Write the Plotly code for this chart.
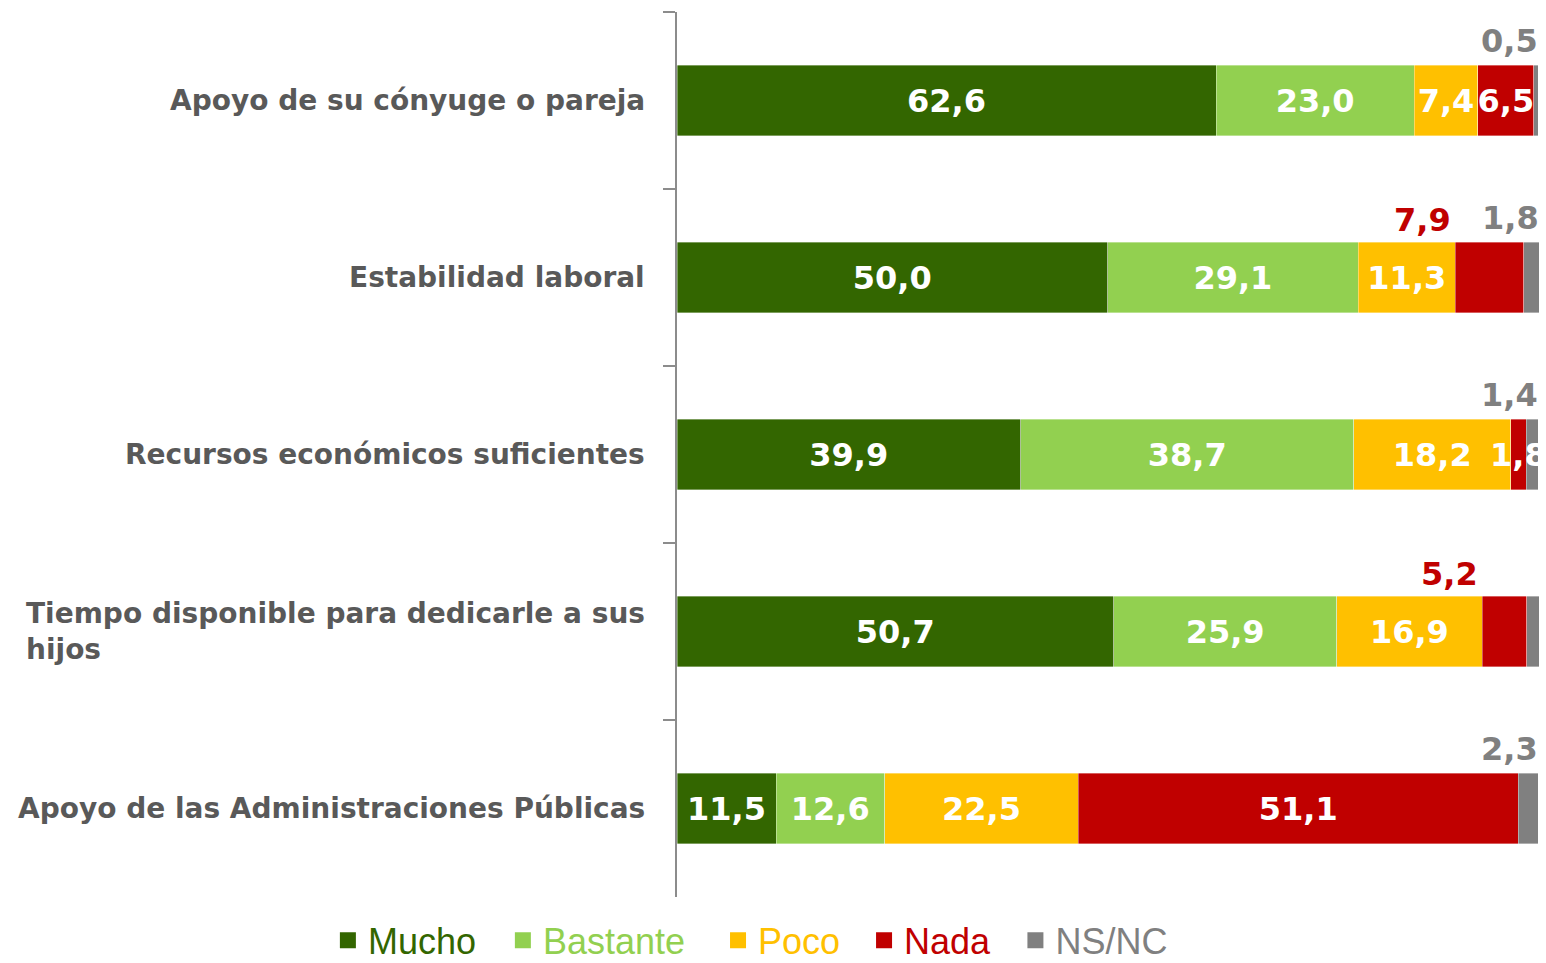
import plotly.graph_objects as go

categories = [
    "Apoyo de su cónyuge o pareja",
    "Estabilidad laboral",
    "Recursos económicos suficientes",
    "Tiempo disponible para dedicarle a sus hijos",
    "Apoyo de las Administraciones Públicas",
]
category_labels = [
    "Apoyo de su cónyuge o pareja",
    "Estabilidad laboral",
    "Recursos económicos suficientes",
    "Tiempo disponible para dedicarle a sus<br>hijos",
    "Apoyo de las Administraciones Públicas",
]
series_names = ["Mucho", "Bastante", "Poco", "Nada", "NS/NC"]
mucho = [62.6, 50.0, 39.9, 50.7, 11.5]
bastante = [23.0, 29.1, 38.7, 25.9, 12.6]
poco = [7.4, 11.3, 18.2, 16.9, 22.5]
nada = [6.5, 7.9, 1.8, 5.2, 51.1]
nsnc = [0.5, 1.8, 1.4, 1.4, 2.3]
# where each value label is written: inside the bar, above the bar, or overlaid (overflowing)
nada_label = ["inside", "above", "overlay", "above", "inside"]
nsnc_label = ["above", "above", "above", "above", "above"]

colors = ["#336600", "#92D050", "#FFC000", "#C00000", "#808080"]
series = [mucho, bastante, poco, nada, nsnc]
label_modes = [["inside"] * 5, ["inside"] * 5, ["inside"] * 5, nada_label, nsnc_label]


def fmt(v):
    return f"{v:.1f}".replace(".", ",")


NUM_SIZE = 32
LABEL_FONT = dict(family="DejaVu Sans", size=NUM_SIZE, color="white", weight="bold")
CAT_FONT = dict(family="DejaVu Sans", size=28, color="#595959", weight="bold")

fig = go.Figure()
legend_ids = ["legend", "legend2", "legend3", "legend4", "legend5"]
for name, vals, col, modes in zip(series_names, series, colors, label_modes):
    fig.add_trace(go.Bar(
        name=name,
        y=categories,
        x=vals,
        orientation="h",
        marker=dict(color=col, line=dict(color="rgba(255,255,255,0.6)", width=0.6)),
        width=0.4,
        text=[fmt(v) if m == "inside" else "" for v, m in zip(vals, modes)],
        textposition="inside",
        insidetextanchor="middle",
        textangle=0,
        insidetextfont=LABEL_FONT,
        cliponaxis=False,
        showlegend=False,
        hoverinfo="skip",
    ))

# legend entries (square swatches)
for name, col, lid in zip(series_names, colors, legend_ids):
    fig.add_trace(go.Scatter(
        name=name, x=[None], y=[None], mode="markers",
        marker=dict(symbol="square", size=18, color=col),
        legend=lid, showlegend=True, hoverinfo="skip",
    ))

annotations = []
for i, cat in enumerate(categories):
    start_nada = mucho[i] + bastante[i] + poco[i]
    end_total = start_nada + nada[i] + nsnc[i]
    if nada_label[i] == "above":
        annotations.append(dict(
            x=start_nada, y=cat, xref="x", yref="y", text=fmt(nada[i]),
            showarrow=False, xanchor="right", yanchor="middle", xshift=-2, yshift=58,
            font=dict(family="DejaVu Sans", size=NUM_SIZE, color=colors[3], weight="bold"),
        ))
    elif nada_label[i] == "overlay":
        annotations.append(dict(
            x=start_nada + nada[i] / 2, y=cat, xref="x", yref="y", text=fmt(nada[i]),
            showarrow=False, xanchor="center", yanchor="middle",
            font=LABEL_FONT,
        ))
    if nsnc_label[i] == "above":
        annotations.append(dict(
            x=end_total, y=cat, xref="x", yref="y", text=fmt(nsnc[i]),
            showarrow=False, xanchor="right", yanchor="middle", xshift=2, yshift=60,
            font=dict(family="DejaVu Sans", size=NUM_SIZE, color=colors[4], weight="bold"),
        ))

# category labels (left-aligned block, right edge near the axis)
for cat, lab in zip(categories, category_labels):
    annotations.append(dict(
        x=0, y=cat, xref="paper", yref="y", text=lab, showarrow=False,
        xanchor="right", yanchor="middle", align="left", xshift=-30,
        font=CAT_FONT,
    ))

legend_x = [-0.405, -0.202, 0.0476, 0.217, 0.3926]
layout_legends = {}
for lid, lx, col in zip(legend_ids, legend_x, colors):
    layout_legends[lid] = dict(
        x=lx, y=-0.049, xanchor="left", yanchor="middle", orientation="h",
        bgcolor="rgba(0,0,0,0)", borderwidth=0, itemsizing="trace",
        font=dict(family="Liberation Sans", size=36, color=col),
    )

fig.update_layout(
    width=1546, height=963,
    margin=dict(l=677, r=7, t=12, b=66, autoexpand=False),
    paper_bgcolor="white", plot_bgcolor="white",
    barmode="stack",
    showlegend=True,
    uniformtext=dict(minsize=NUM_SIZE, mode="show"),
    xaxis=dict(range=[0, 100.1], visible=False, showgrid=False),
    yaxis=dict(
        autorange="reversed", showticklabels=False, showgrid=False,
        showline=True, linecolor="#8C8C8C", linewidth=2,
        ticks="outside", tickson="boundaries", ticklen=12, tickcolor="#8C8C8C", tickwidth=2,
        zeroline=False,
    ),
    annotations=annotations,
    **layout_legends,
)

fig.write_html("out.html", config={"displayModeBar": False},
               post_script="document.body.style.margin='0';")
